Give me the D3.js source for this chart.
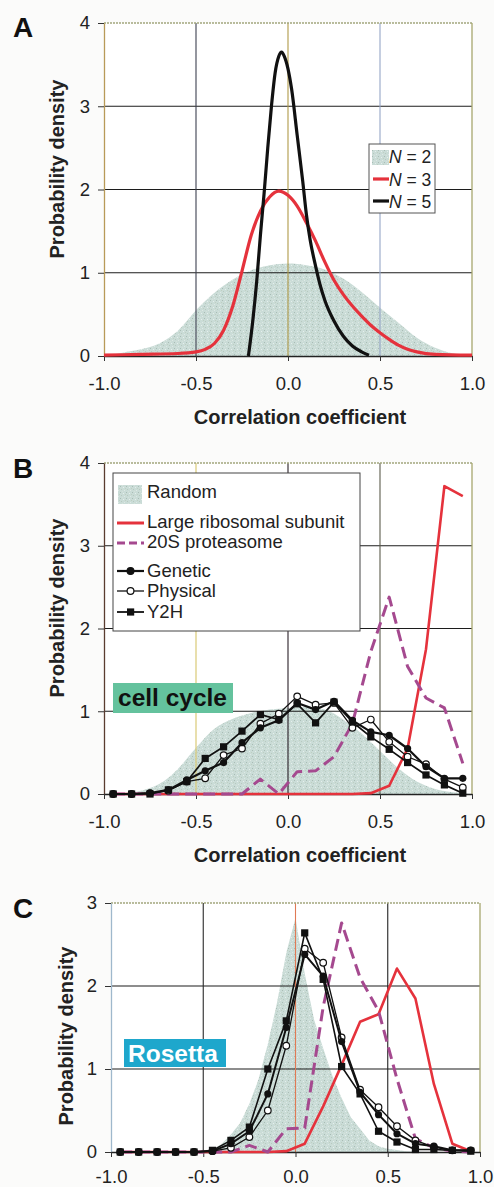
<!DOCTYPE html>
<html>
<head>
<meta charset="utf-8">
<script src="https://cdn.jsdelivr.net/npm/d3@7"></script>
<style>
body { margin: 0; background: #fbfbfa; }
svg { display: block; font-family: "Liberation Sans", Arial, sans-serif; }
</style>
</head>
<body>
<svg width="494" height="1187"></svg>
<script>
// ---------- data ----------

// bin centres used in panels B and C
var binX = [-0.95, -0.85, -0.75, -0.65, -0.55, -0.45, -0.35, -0.25, -0.15, -0.05,
             0.05,  0.15,  0.25,  0.35,  0.45,  0.55,  0.65,  0.75,  0.85,  0.95];

// panel A
var aN2X = [-1.0, -0.9, -0.8, -0.7, -0.6, -0.5, -0.4, -0.3, -0.2, -0.1, 0.0, 0.1, 0.2, 0.3, 0.4, 0.5, 0.6, 0.7, 0.8, 0.9, 1.0];
var aN2Y = [0.0, 0.04, 0.08, 0.15, 0.3, 0.55, 0.76, 0.92, 1.03, 1.09, 1.11, 1.09, 1.04, 0.93, 0.77, 0.58, 0.4, 0.22, 0.1, 0.03, 0.0];

var aN3X = [-1.0, -0.8, -0.6, -0.5, -0.45, -0.4, -0.35, -0.3, -0.25, -0.2, -0.15, -0.1, -0.05, 0.0, 0.05, 0.1, 0.15, 0.2, 0.25, 0.3, 0.35, 0.4, 0.45, 0.5, 0.55, 0.6, 0.65, 0.7, 0.8, 1.0];
var aN3Y = [0.01, 0.02, 0.03, 0.05, 0.08, 0.15, 0.31, 0.6, 1.02, 1.45, 1.74, 1.91, 1.98, 1.93, 1.8, 1.6, 1.38, 1.13, 0.91, 0.74, 0.6, 0.48, 0.37, 0.28, 0.2, 0.13, 0.08, 0.05, 0.02, 0.01];

var aN5X = [-0.215, -0.19, -0.17, -0.15, -0.13, -0.11, -0.09, -0.07, -0.05, -0.035, -0.02, 0.0, 0.02, 0.05, 0.08, 0.1, 0.12, 0.15, 0.175, 0.2, 0.25, 0.3, 0.35, 0.4, 0.44];
var aN5Y = [0.0, 0.45, 0.9, 1.45, 1.95, 2.5, 3.0, 3.4, 3.6, 3.65, 3.6, 3.45, 3.2, 2.65, 2.1, 1.7, 1.4, 1.08, 0.85, 0.67, 0.42, 0.24, 0.12, 0.05, 0.01];

// panel B (cell cycle)
var bRandX = [-1.0, -0.9, -0.8, -0.7, -0.6, -0.5, -0.4, -0.3, -0.2, -0.1, 0.0, 0.1, 0.2, 0.3, 0.4, 0.5, 0.6, 0.7, 0.8, 0.9, 1.0];
var bRandY = [0.0, 0.01, 0.04, 0.12, 0.3, 0.56, 0.79, 0.91, 0.98, 1.02, 1.04, 1.05, 1.02, 0.9, 0.73, 0.52, 0.31, 0.15, 0.06, 0.02, 0.0];
var bRibo     = [0, 0, 0, 0, 0, 0, 0, 0, 0, 0, 0, 0, 0, 0, 0.01, 0.1, 0.55, 1.75, 3.72, 3.6];
var bProteas  = [0, 0, 0, 0, 0, 0, 0, 0, 0.18, 0, 0.27, 0.28, 0.45, 0.85, 1.72, 2.38, 1.54, 1.16, 1.04, 0.37];
var bGenetic  = [0, 0, 0.01, 0.05, 0.17, 0.28, 0.38, 0.62, 0.8, 0.89, 1.1, 1.02, 1.12, 0.89, 0.75, 0.71, 0.55, 0.33, 0.19, 0.19];
var bPhysical = [0, 0, 0.01, 0.04, 0.15, 0.19, 0.47, 0.55, 0.85, 0.97, 1.18, 1.08, 1.1, 0.8, 0.9, 0.63, 0.45, 0.36, 0.18, 0.08];
var bY2H      = [0, 0, 0, 0.05, 0.15, 0.43, 0.57, 0.76, 0.96, 0.9, 1.09, 0.86, 1.11, 0.87, 0.69, 0.54, 0.38, 0.23, 0.11, 0.01];

// panel C (Rosetta)
var cRandX = [-1.0, -0.6, -0.5, -0.45, -0.4, -0.35, -0.3, -0.25, -0.2, -0.15, -0.1, -0.05, 0.0, 0.05, 0.1, 0.15, 0.2, 0.25, 0.3, 0.35, 0.4, 0.45, 0.5, 0.6, 0.7, 1.0];
var cRandY = [0, 0, 0.01, 0.03, 0.1, 0.21, 0.35, 0.58, 0.88, 1.3, 1.8, 2.4, 2.82, 2.15, 1.6, 1.25, 0.92, 0.65, 0.42, 0.28, 0.14, 0.07, 0.04, 0.01, 0, 0];
var cRibo     = [0, 0, 0, 0, 0, 0, 0, 0, 0, 0.01, 0.1, 0.55, 1.05, 1.57, 1.66, 2.21, 1.85, 0.82, 0.1, 0.01];
var cProteas  = [0, 0, 0, 0, 0, 0, 0, 0.08, 0, 0.28, 0.29, 1.75, 2.76, 2.1, 1.7, 0.88, 0.16, 0.05, 0.01, 0];
var cGenetic  = [0, 0, 0, 0, 0, 0.01, 0.1, 0.25, 0.7, 1.5, 2.38, 2.12, 1.33, 0.72, 0.45, 0.22, 0.1, 0.07, 0.02, 0.02];
var cPhysical = [0, 0, 0, 0, 0, 0.01, 0.05, 0.18, 0.5, 1.28, 2.45, 2.28, 1.38, 0.75, 0.54, 0.31, 0.14, 0.06, 0.02, 0.02];
var cY2H      = [0, 0, 0, 0, 0, 0.02, 0.14, 0.3, 1.0, 1.58, 2.64, 2.08, 1.03, 0.7, 0.25, 0.12, 0.03, 0.03, 0.02, 0.01];

var xTicks = [-1.0, -0.5, 0.0, 0.5, 1.0];

// ---------- drawing ----------
var svg = d3.select("svg");
var red = "#e5323c", purple = "#a5498f";

// speckled fill like the scanned grey area
var pat = svg.append("defs").append("pattern")
    .attr("id", "speckle")
    .attr("width", 6).attr("height", 6)
    .attr("patternUnits", "userSpaceOnUse");
pat.append("rect").attr("width", 6).attr("height", 6).attr("fill", "#cadcd7");
[[0, 0, "#a9bcb5"], [3, 1, "#e6efec"], [1, 3, "#b8c9bf"], [4, 4, "#dfe9e5"], [5, 2, "#bfcfc2"], [2, 5, "#d6e2dc"]]
    .forEach(function (p) {
        pat.append("rect").attr("x", p[0]).attr("y", p[1]).attr("width", 1).attr("height", 1).attr("fill", p[2]);
    });

function panel(cfg) {
    var x = d3.scaleLinear().domain([-1, 1]).range([cfg.left, cfg.right]);
    var y = d3.scaleLinear().domain([0, cfg.ymax]).range([cfg.bottom, cfg.top]);
    var g = svg.append("g");

    g.append("rect")
        .attr("x", cfg.left).attr("y", cfg.top)
        .attr("width", cfg.right - cfg.left).attr("height", cfg.bottom - cfg.top)
        .attr("fill", "#fff");

    // grey random distribution
    var area = d3.area()
        .x(function (d) { return x(d[0]); })
        .y0(y(0))
        .y1(function (d) { return y(d[1]); })
        .curve(cfg.smooth ? d3.curveMonotoneX : d3.curveLinear);
    g.append("path")
        .datum(d3.zip(cfg.randX, cfg.randY))
        .attr("d", area)
        .attr("fill", "url(#speckle)");

    // grid
    d3.range(1, cfg.ymax).forEach(function (v) {
        g.append("line")
            .attr("x1", cfg.left).attr("x2", cfg.right)
            .attr("y1", y(v)).attr("y2", y(v))
            .attr("stroke", "#1c1c1c").attr("stroke-width", 1.1);
    });
    [-0.5, 0, 0.5].forEach(function (v, i) {
        g.append("line")
            .attr("x1", x(v)).attr("x2", x(v))
            .attr("y1", cfg.top).attr("y2", cfg.bottom)
            .attr("stroke", cfg.vcol[i]).attr("stroke-width", 1.1);
    });

    // frame: dotted top, olive right
    g.append("line").attr("x1", cfg.left).attr("x2", cfg.right).attr("y1", cfg.top).attr("y2", cfg.top)
        .attr("stroke", "#a3a67e").attr("stroke-width", 1.5).attr("stroke-dasharray", "2,1");
    g.append("line").attr("x1", cfg.right).attr("x2", cfg.right).attr("y1", cfg.top).attr("y2", cfg.bottom)
        .attr("stroke", "#a6a66e").attr("stroke-width", 1.3);

    var yAxis = d3.axisLeft(y).tickValues(d3.range(0, cfg.ymax + 1))
        .tickSize(6).tickSizeOuter(0).tickPadding(8).tickFormat(d3.format("d"));
    var ya = g.append("g").attr("transform", "translate(" + cfg.left + ",0)").call(yAxis);
    ya.select(".domain").attr("stroke", cfg.leftcol).attr("stroke-width", 1.3);

    var xAxis = d3.axisBottom(x).tickValues(xTicks)
        .tickSize(5).tickSizeOuter(0).tickPadding(cfg.xpad)
        .tickFormat(function (d) { return d.toFixed(1); });
    var xa = g.append("g").attr("transform", "translate(0," + cfg.bottom + ")").call(xAxis);
    xa.select(".domain").attr("stroke", "#222").attr("stroke-width", 1.3);

    g.selectAll(".tick text").attr("font-size", 18.5).attr("fill", "#222")
        .attr("font-family", "'Liberation Sans', Arial, sans-serif");
    g.selectAll(".tick line").attr("stroke", "#333");

    // y title
    g.append("text")
        .attr("transform", "translate(" + cfg.ytitleX + "," + cfg.ytitleY + ")rotate(-90)")
        .attr("text-anchor", "middle")
        .attr("font-size", 20).attr("font-weight", "bold").attr("fill", "#222")
        .text("Probability density");

    // panel letter
    g.append("text")
        .attr("x", 13).attr("y", cfg.top + cfg.letterDy)
        .attr("font-size", 28).attr("font-weight", "bold").attr("fill", "#111")
        .text(cfg.letter);

    if (cfg.xtitle) {
        g.append("text")
            .attr("x", 300).attr("y", cfg.bottom + 68)
            .attr("text-anchor", "middle")
            .attr("font-size", 20).attr("font-weight", "bold").attr("fill", "#222")
            .text("Correlation coefficient");
    }

    return { g: g, x: x, y: y };
}

function seriesLine(p, xs, ys, color, width, dash, curve) {
    var line = d3.line()
        .x(function (d) { return p.x(d[0]); })
        .y(function (d) { return p.y(d[1]); })
        .curve(curve || d3.curveLinear);
    p.g.append("path")
        .datum(d3.zip(xs, ys))
        .attr("d", line)
        .attr("fill", "none")
        .attr("stroke", color)
        .attr("stroke-width", width)
        .attr("stroke-linejoin", "round")
        .attr("stroke-dasharray", dash || null);
}

function markerSeries(p, ys, kind, width) {
    seriesLine(p, binX, ys, "#111", width);
    var pts = p.g.selectAll(null).data(d3.zip(binX, ys)).enter();
    if (kind === "square") {
        pts.append("rect")
            .attr("x", function (d) { return p.x(d[0]) - 3.6; })
            .attr("y", function (d) { return p.y(d[1]) - 3.6; })
            .attr("width", 7.2).attr("height", 7.2)
            .attr("fill", "#111");
    } else {
        pts.append("circle")
            .attr("cx", function (d) { return p.x(d[0]); })
            .attr("cy", function (d) { return p.y(d[1]); })
            .attr("r", kind === "open" ? 3.3 : 3.6)
            .attr("fill", kind === "open" ? "#fff" : "#111")
            .attr("stroke", "#111").attr("stroke-width", kind === "open" ? 1.2 : 0);
    }
}

// ----- panel A -----
var pA = panel({ left: 104, right: 472, top: 23, bottom: 356, ymax: 4, letter: "A", letterDy: 14,
    randX: aN2X, randY: aN2Y, smooth: true, xtitle: true, xpad: 16,
    vcol: ["#3d4150", "#b09a48", "#95a6c6"], leftcol: "#b89a58",
    ytitleX: 64, ytitleY: 169 });
seriesLine(pA, aN3X, aN3Y, red, 3.2, null, d3.curveMonotoneX);
seriesLine(pA, aN5X, aN5Y, "#111", 3.2, null, d3.curveMonotoneX);

// legend A
var lgA = pA.g.append("g");
lgA.append("rect").attr("x", 369).attr("y", 144).attr("width", 66).attr("height", 69)
    .attr("fill", "#fff").attr("stroke", "#555").attr("stroke-width", 1);
lgA.append("rect").attr("x", 372).attr("y", 150).attr("width", 17).attr("height", 15).attr("fill", "url(#speckle)");
lgA.append("line").attr("x1", 373).attr("x2", 389).attr("y1", 179).attr("y2", 179).attr("stroke", red).attr("stroke-width", 3.2);
lgA.append("line").attr("x1", 373).attr("x2", 389).attr("y1", 201).attr("y2", 201).attr("stroke", "#111").attr("stroke-width", 3.2);
["2", "3", "5"].forEach(function (n, i) {
    var t = lgA.append("text").attr("x", 389).attr("y", 163 + i * 22.5)
        .attr("font-size", 17.5).attr("fill", "#222");
    t.append("tspan").attr("font-style", "italic").text("N");
    t.append("tspan").text(" = " + n);
});

// ----- panel B -----
var pB = panel({ left: 104, right: 472, top: 463, bottom: 794, ymax: 4, letter: "B", letterDy: 15,
    randX: bRandX, randY: bRandY, smooth: true, xtitle: true, xpad: 16,
    vcol: ["#d6c56a", "#2a2028", "#5c5c4c"], leftcol: "#5a3c30",
    ytitleX: 64, ytitleY: 608 });
seriesLine(pB, binX, bRibo, red, 2.6);
seriesLine(pB, binX, bProteas, purple, 3, "12,6");
markerSeries(pB, bPhysical, "open", 1.3);
markerSeries(pB, bGenetic, "filled", 2.2);
markerSeries(pB, bY2H, "square", 1.7);

// legend B
var lgB = pB.g.append("g");
lgB.append("rect").attr("x", 113).attr("y", 473).attr("width", 247).attr("height", 158)
    .attr("fill", "#fff").attr("stroke", "#444").attr("stroke-width", 1);
lgB.append("rect").attr("x", 118).attr("y", 485).attr("width", 24).attr("height", 19).attr("fill", "url(#speckle)");
lgB.append("line").attr("x1", 117).attr("x2", 144).attr("y1", 523).attr("y2", 523).attr("stroke", red).attr("stroke-width", 3);
lgB.append("line").attr("x1", 117).attr("x2", 144).attr("y1", 543).attr("y2", 543).attr("stroke", purple).attr("stroke-width", 3).attr("stroke-dasharray", "8,4");
[["Genetic", 571, "filled", 2.2], ["Physical", 591, "open", 1.3], ["Y2H", 612, "square", 1.8]].forEach(function (e) {
    lgB.append("line").attr("x1", 117).attr("x2", 144).attr("y1", e[1]).attr("y2", e[1]).attr("stroke", "#111").attr("stroke-width", e[3]);
    if (e[2] === "square") {
        lgB.append("rect").attr("x", 127).attr("y", e[1] - 3.6).attr("width", 7.2).attr("height", 7.2).attr("fill", "#111");
    } else {
        lgB.append("circle").attr("cx", 130.5).attr("cy", e[1]).attr("r", 3.4)
            .attr("fill", e[2] === "open" ? "#fff" : "#111").attr("stroke", "#111").attr("stroke-width", 1.2);
    }
});
[["Random", 498], ["Large ribosomal subunit", 528], ["20S proteasome", 548], ["Genetic", 577], ["Physical", 597], ["Y2H", 618]]
    .forEach(function (e) {
        lgB.append("text").attr("x", 147).attr("y", e[1]).attr("font-size", 18.5).attr("fill", "#222").text(e[0]);
    });

pB.g.append("rect").attr("x", 113).attr("y", 683).attr("width", 120).attr("height", 30).attr("fill", "#64c29d");
pB.g.append("text").attr("x", 118).attr("y", 706).attr("font-size", 24.5).attr("font-weight", "bold")
    .attr("fill", "#111").text("cell cycle");

// ----- panel C -----
var pC = panel({ left: 111, right: 480, top: 903, bottom: 1152, ymax: 3, letter: "C", letterDy: 15,
    randX: cRandX, randY: cRandY, smooth: false, xtitle: false, xpad: 13,
    vcol: ["#2a2a2a", "#e07a55", "#222"], leftcol: "#9fb8cc",
    ytitleX: 73, ytitleY: 1036 });
seriesLine(pC, binX, cRibo, red, 2.6);
seriesLine(pC, binX, cProteas, purple, 3, "12,6");
markerSeries(pC, cPhysical, "open", 1.3);
markerSeries(pC, cGenetic, "filled", 2.0);
markerSeries(pC, cY2H, "square", 1.6);

pC.g.append("rect").attr("x", 124).attr("y", 1039).attr("width", 102).attr("height", 28).attr("fill", "#1ea7cc");
pC.g.append("text").attr("x", 128).attr("y", 1062).attr("font-size", 24.5).attr("font-weight", "bold")
    .attr("fill", "#fff").text("Rosetta");
</script>
</body>
</html>
